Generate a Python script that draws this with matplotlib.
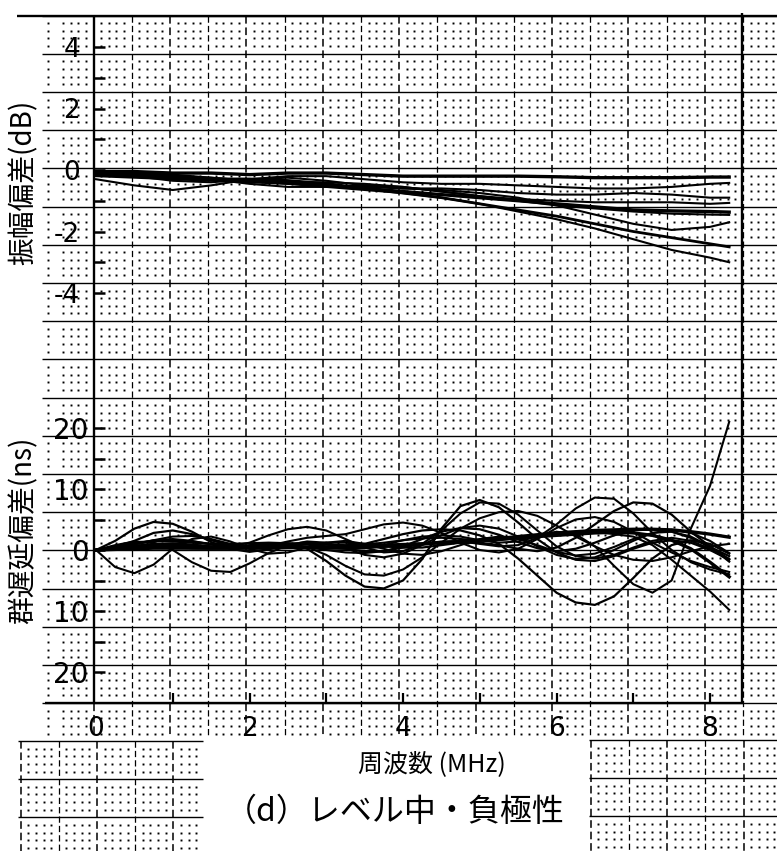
import numpy as np
import matplotlib
matplotlib.use('Agg')
import matplotlib.pyplot as plt

plt.rcParams['font.family'] = ['DejaVu Sans']
CJK = ['Noto Sans CJK JP', 'DejaVu Sans']

# 振幅偏差 (dB) : 0.5 MHz おき
freq_amp = [0, 0.5, 1.0, 1.5, 2.0, 2.5, 3.0, 3.5, 4.0, 4.5, 5.0, 5.5, 6.0, 6.5, 7.0, 7.5, 8.0, 8.25]
amp = [
    [-0.05, -0.05, -0.10, -0.10, -0.15, -0.10, -0.10, -0.15, -0.20, -0.20, -0.20, -0.20, -0.22, -0.25, -0.25, -0.25, -0.23, -0.23],
    [-0.10, -0.20, -0.35, -0.40, -0.30, -0.20, -0.20, -0.30, -0.40, -0.45, -0.45, -0.50, -0.55, -0.60, -0.60, -0.55, -0.45, -0.42],
    [-0.30, -0.50, -0.65, -0.50, -0.30, -0.25, -0.35, -0.50, -0.60, -0.60, -0.65, -0.75, -0.80, -0.80, -0.75, -0.80, -0.90, -0.90],
    [-0.10, -0.15, -0.20, -0.30, -0.45, -0.55, -0.55, -0.50, -0.55, -0.70, -0.85, -0.95, -1.00, -1.05, -1.05, -1.05, -1.10, -1.07],
    [-0.15, -0.20, -0.25, -0.30, -0.30, -0.35, -0.45, -0.60, -0.70, -0.80, -0.90, -1.00, -1.10, -1.20, -1.30, -1.33, -1.35, -1.37],
    [-0.10, -0.10, -0.15, -0.25, -0.35, -0.40, -0.40, -0.45, -0.55, -0.70, -0.85, -1.00, -1.15, -1.25, -1.35, -1.42, -1.45, -1.46],
    [-0.20, -0.25, -0.30, -0.35, -0.40, -0.45, -0.50, -0.55, -0.60, -0.65, -0.75, -0.90, -1.15, -1.45, -1.75, -1.95, -1.85, -1.70],
    [-0.05, -0.10, -0.20, -0.30, -0.35, -0.40, -0.50, -0.60, -0.75, -0.90, -1.10, -1.30, -1.50, -1.75, -2.00, -2.20, -2.40, -2.50],
    [-0.15, -0.20, -0.20, -0.25, -0.35, -0.45, -0.55, -0.65, -0.75, -0.90, -1.10, -1.35, -1.60, -1.90, -2.25, -2.60, -2.85, -3.00],
]
amp_lw = [2.4, 1.5, 1.5, 1.5, 2.4, 1.5, 1.5, 2.0, 1.5]

# 群遅延偏差 (ns) : 0.25 MHz おき
freq_gd = [0, 0.25, 0.5, 0.75, 1.0, 1.25, 1.5, 1.75, 2.0, 2.25, 2.5, 2.75, 3.0, 3.25, 3.5, 3.75, 4.0,
           4.25, 4.5, 4.75, 5.0, 5.25, 5.5, 5.75, 6.0, 6.25, 6.5, 6.75, 7.0, 7.25, 7.5, 7.75, 8.0, 8.25]
gd = [
    [0, 1.5, 3.5, 4.6, 4.3, 3.0, 1.3, 0.2, -0.3, 0.1, 0.9, 1.3, 1.0, 0.3, -0.3, -0.2, 0.6,
     1.8, 3.0, 3.6, 3.4, 2.5, 1.3, 0.3, -0.2, 0.2, 1.2, 2.4, 3.2, 3.4, 3.0, 2.0, 0.5, -1.0],
    [0, -2.8, -3.8, -2.4, 0.2, 1.8, 2.2, 1.4, 0.2, -0.6, -0.4, 0.4, 1.2, 1.5, 1.0, 0.2, -0.6,
     -0.8, -0.2, 0.8, 1.8, 2.2, 1.8, 0.8, -0.3, -0.9, -0.6, 0.5, 1.8, 2.8, 3.0, 2.2, 0.6, -1.5],
    [0, 0.8, 1.4, 1.2, 0.0, -2.0, -3.4, -3.6, -2.2, -0.5, 0.8, 1.4, 1.2, 0.3, -0.8, -1.2, -0.6,
     0.8, 2.4, 3.6, 4.0, 3.5, 2.2, 0.6, -0.8, -1.5, -1.2, 0.0, 1.5, 2.8, 3.3, 2.8, 1.5, -0.5],
    [0, 0.5, 1.5, 2.8, 3.2, 2.6, 1.6, 0.8, 0.6, 0.9, 1.0, 0.2, -1.8, -4.2, -6.0, -6.3, -5.0,
     -1.5, 3.5, 7.2, 8.2, 7.0, 4.5, 1.8, -0.4, -1.6, -1.8, -1.0, 0.2, 1.2, 1.6, 1.2, 0.0, -1.6],
    [0, 0.3, 0.9, 1.6, 2.2, 2.3, 1.8, 1.0, 0.6, 0.7, 0.9, 0.5, -0.8, -2.6, -4.0, -4.2, -3.2,
     -1.2, 1.2, 3.5, 5.2, 6.2, 6.4, 5.6, 4.0, 2.2, 0.6, -0.8, -1.6, -1.8, -1.2, -0.2, 0.6, 1.0],
    [0, 0.2, 0.6, 1.0, 1.1, 0.9, 0.6, 0.6, 1.2, 2.4, 3.4, 3.8, 3.2, 1.8, 0.4, -0.4, -0.2,
     1.0, 3.2, 6.0, 7.8, 7.6, 5.8, 3.2, 0.6, -1.0, -1.4, -0.8, 0.4, 1.5, 2.0, 1.5, 0.2, -1.5],
    [0, 0.4, 1.0, 1.6, 1.8, 1.5, 0.9, 0.4, 0.3, 0.7, 1.4, 2.0, 2.3, 2.6, 3.4, 4.2, 4.5,
     4.0, 2.8, 1.2, 0.0, -0.4, 0.2, 1.8, 3.6, 5.0, 5.4, 4.6, 3.0, 1.2, -0.4, -1.8, -2.8, -3.6],
    [0, 0.3, 0.6, 0.7, 0.5, 0.3, 0.3, 0.5, 0.8, 1.0, 0.9, 0.5, 0.0, -0.4, -0.5, -0.2, 0.4,
     1.0, 1.4, 1.4, 1.0, 0.6, 0.8, 2.0, 4.2, 6.8, 8.6, 8.4, 6.0, 2.8, 0.0, -2.0, -3.2, -4.0],
    [0, 0.6, 1.2, 1.5, 1.4, 1.2, 1.0, 1.0, 1.1, 1.2, 1.1, 0.9, 0.6, 0.6, 1.0, 1.8, 2.6,
     3.2, 3.4, 3.2, 2.4, 1.0, -1.4, -4.2, -7.0, -8.6, -9.0, -7.6, -4.6, -1.4, 0.8, 1.6, 1.0, -0.6],
    [0, 0.2, 0.5, 0.8, 0.8, 0.7, 0.5, 0.5, 0.7, 1.0, 1.1, 0.9, 0.5, 0.2, 0.3, 0.8, 1.6,
     2.2, 2.4, 2.2, 1.6, 1.2, 1.4, 2.2, 3.0, 2.6, 0.6, -2.6, -5.6, -7.0, -5.0, 3.5, 10.5, 21.0],
    [0, 0.5, 1.0, 1.4, 1.6, 1.4, 1.0, 0.6, 0.5, 0.6, 0.8, 1.0, 1.2, 1.2, 1.0, 0.6, 0.4,
     0.4, 0.8, 1.2, 1.2, 0.8, 0.2, -0.2, 0.4, 2.0, 4.2, 6.4, 7.8, 7.6, 5.8, 3.0, 0.6, -1.9],
    [0, 0.3, 0.7, 1.0, 1.0, 0.8, 0.6, 0.5, 0.5, 0.7, 0.9, 1.0, 0.9, 0.8, 0.9, 1.2, 1.6,
     1.9, 2.0, 1.8, 1.6, 1.6, 1.9, 2.4, 2.8, 3.0, 3.0, 2.6, 2.2, 0.8, -1.6, -4.2, -6.8, -9.8],
    [0, 0.2, 0.4, 0.5, 0.5, 0.4, 0.3, 0.3, 0.4, 0.5, 0.5, 0.4, 0.3, 0.3, 0.4, 0.6, 0.8,
     1.0, 1.2, 1.4, 1.6, 1.8, 2.0, 2.2, 2.4, 2.6, 2.8, 2.9, 2.8, 2.4, 1.6, 0.2, -2.0, -4.4],
    [0, 0.1, 0.2, 0.3, 0.3, 0.3, 0.3, 0.3, 0.3, 0.3, 0.4, 0.4, 0.5, 0.6, 0.7, 0.8, 0.9,
     1.0, 1.2, 1.4, 1.6, 1.9, 2.2, 2.5, 2.8, 3.0, 3.2, 3.3, 3.4, 3.4, 3.3, 3.0, 2.6, 2.1],
]
gd_lw = [1.6, 1.5, 1.5, 1.6, 1.5, 1.5, 1.5, 1.5, 1.6, 1.5, 1.6, 1.5, 2.4, 2.4]

freq_ticks = [0, 2, 4, 6, 8]
freq_ticklabels = ['0', '2', '4', '6', '8']
amp_ticks = [4, 2, 0, -2, -4]
amp_ticklabels = ['4', '2', '0', '-2', '-4']
gd_ticks = [20, 10, 0, -10, -20]
gd_ticklabels = ['20', '10', '0', '10', '20']

W, H = 777, 851
fig = plt.figure(figsize=(W / 100, H / 100), dpi=100)

# 方眼紙 (ピクセル座標)
paper = fig.add_axes([0, 0, 1, 1], zorder=0)
paper.set_xlim(0, W)
paper.set_ylim(H, 0)
paper.axis('off')


def draw_paper(x0, x1, y0, y1, gx, gy, step=38.2, vx0=None):
    ks = range(-40, 40)
    hys = [gy + k * step for k in ks if y0 <= gy + k * step <= y1]
    vxs = [gx + k * step for k in ks if x0 <= gx + k * step <= x1]
    if vx0 is not None:
        vxs = [x for x in vxs if x >= vx0]
    for y in hys:
        paper.plot([x0, x1], [y, y], color='k', lw=1.0, solid_capstyle='butt')
    for i, x in enumerate(vxs):
        paper.plot([x, x], [y0, y1], color='k', lw=0.9 if i % 2 else 1.1,
                   ls=(0, (5, 2.5)))
    sub = step / 5
    dx = [gx + k * sub for k in range(-200, 200) if k % 5 and x0 <= gx + k * sub <= x1]
    dy = [gy + k * sub for k in range(-200, 200) if k % 5 and y0 <= gy + k * sub <= y1]
    X, Y = np.meshgrid(dx, dy)
    paper.plot(X.ravel(), Y.ravel(), 's', ms=1.4, mew=0, color='k')


draw_paper(42, W, 15.5, 737, 93.5, 15.5, vx0=93)
draw_paper(18, 203, 741, H, 97, 741)
draw_paper(589, W, 740, H, 629, 740)

# 枠
for xs, ys in [([17, W], [15.5, 15.5]), ([94, 94], [15.5, 703]),
               ([45, 743], [703, 703]), ([742, 742], [13, 703])]:
    paper.plot(xs, ys, color='k', lw=1.7, solid_capstyle='butt')

# 座標変換用の定数 (ピクセル)
F0_PX, PX_PER_MHZ = 96, 76.75
AMP0_PX, PX_PER_DB = 170, 30.75
GD0_PX, PX_PER_NS = 550, 6.1
LEFT_PX, RIGHT_PX = 94, 742
xlim = ((LEFT_PX - F0_PX) / PX_PER_MHZ, (RIGHT_PX - F0_PX) / PX_PER_MHZ)


def make_axes(top_px, bot_px, zero_px, scale):
    ax = fig.add_axes([LEFT_PX / W, 1 - bot_px / H, (RIGHT_PX - LEFT_PX) / W,
                       (bot_px - top_px) / H], zorder=2)
    ax.patch.set_visible(False)
    for s in ax.spines.values():
        s.set_visible(False)
    ax.set_xlim(*xlim)
    ax.set_ylim((zero_px - bot_px) / scale, (zero_px - top_px) / scale)
    return ax


ax1 = make_axes(15.5, 330, AMP0_PX, PX_PER_DB)
for y, lw in zip(amp, amp_lw):
    ax1.plot(freq_amp, y, color='k', lw=lw)
ax1.set_yticks(amp_ticks)
ax1.set_yticklabels(amp_ticklabels)
ax1.set_yticks([3, 1, -1, -3], minor=True)
ax1.set_xticks([])
ax1.tick_params(axis='y', which='both', direction='in', length=8, width=1.8,
                labelsize=19, pad=10)

ax2 = make_axes(360, 703, GD0_PX, PX_PER_NS)
for y, lw in zip(gd, gd_lw):
    ax2.plot(freq_gd, y, color='k', lw=lw)
ax2.set_yticks(gd_ticks)
ax2.set_yticklabels(gd_ticklabels)
ax2.set_yticks([15, 5, -5, -15], minor=True)
ax2.tick_params(axis='y', which='both', direction='in', length=8, width=1.8,
                labelsize=20, pad=4)
ax2.set_xticks([1, 2, 3, 4, 5, 6, 7, 8])
ax2.set_xticklabels(['', '2', '', '4', '', '6', '', '8'])
ax2.set_xticks([0], minor=True)
ax2.set_xticklabels(['0'], minor=True)
ax2.tick_params(axis='x', which='major', direction='in', length=7, width=1.6,
                labelsize=19, pad=9)
ax2.tick_params(axis='x', which='minor', length=0, labelsize=19, pad=9)

# 軸ラベル・タイトル
fig.text(24 / W, 1 - 182 / H, '振幅偏差(dB)', rotation=90, ha='center', va='center',
         fontsize=20, family=CJK)
fig.text(24 / W, 1 - 530 / H, '群遅延偏差(ns)', rotation=90, ha='center', va='center',
         fontsize=20, family=CJK)
fig.text(432 / W, 1 - 764 / H, '周波数 (MHz)', ha='center', va='center',
         fontsize=18, family=CJK)
fig.text(395 / W, 1 - 812 / H, '（d）レベル中・負極性', ha='center', va='center',
         fontsize=23, family=CJK)

fig.savefig('out.png', dpi=100, facecolor='white')
